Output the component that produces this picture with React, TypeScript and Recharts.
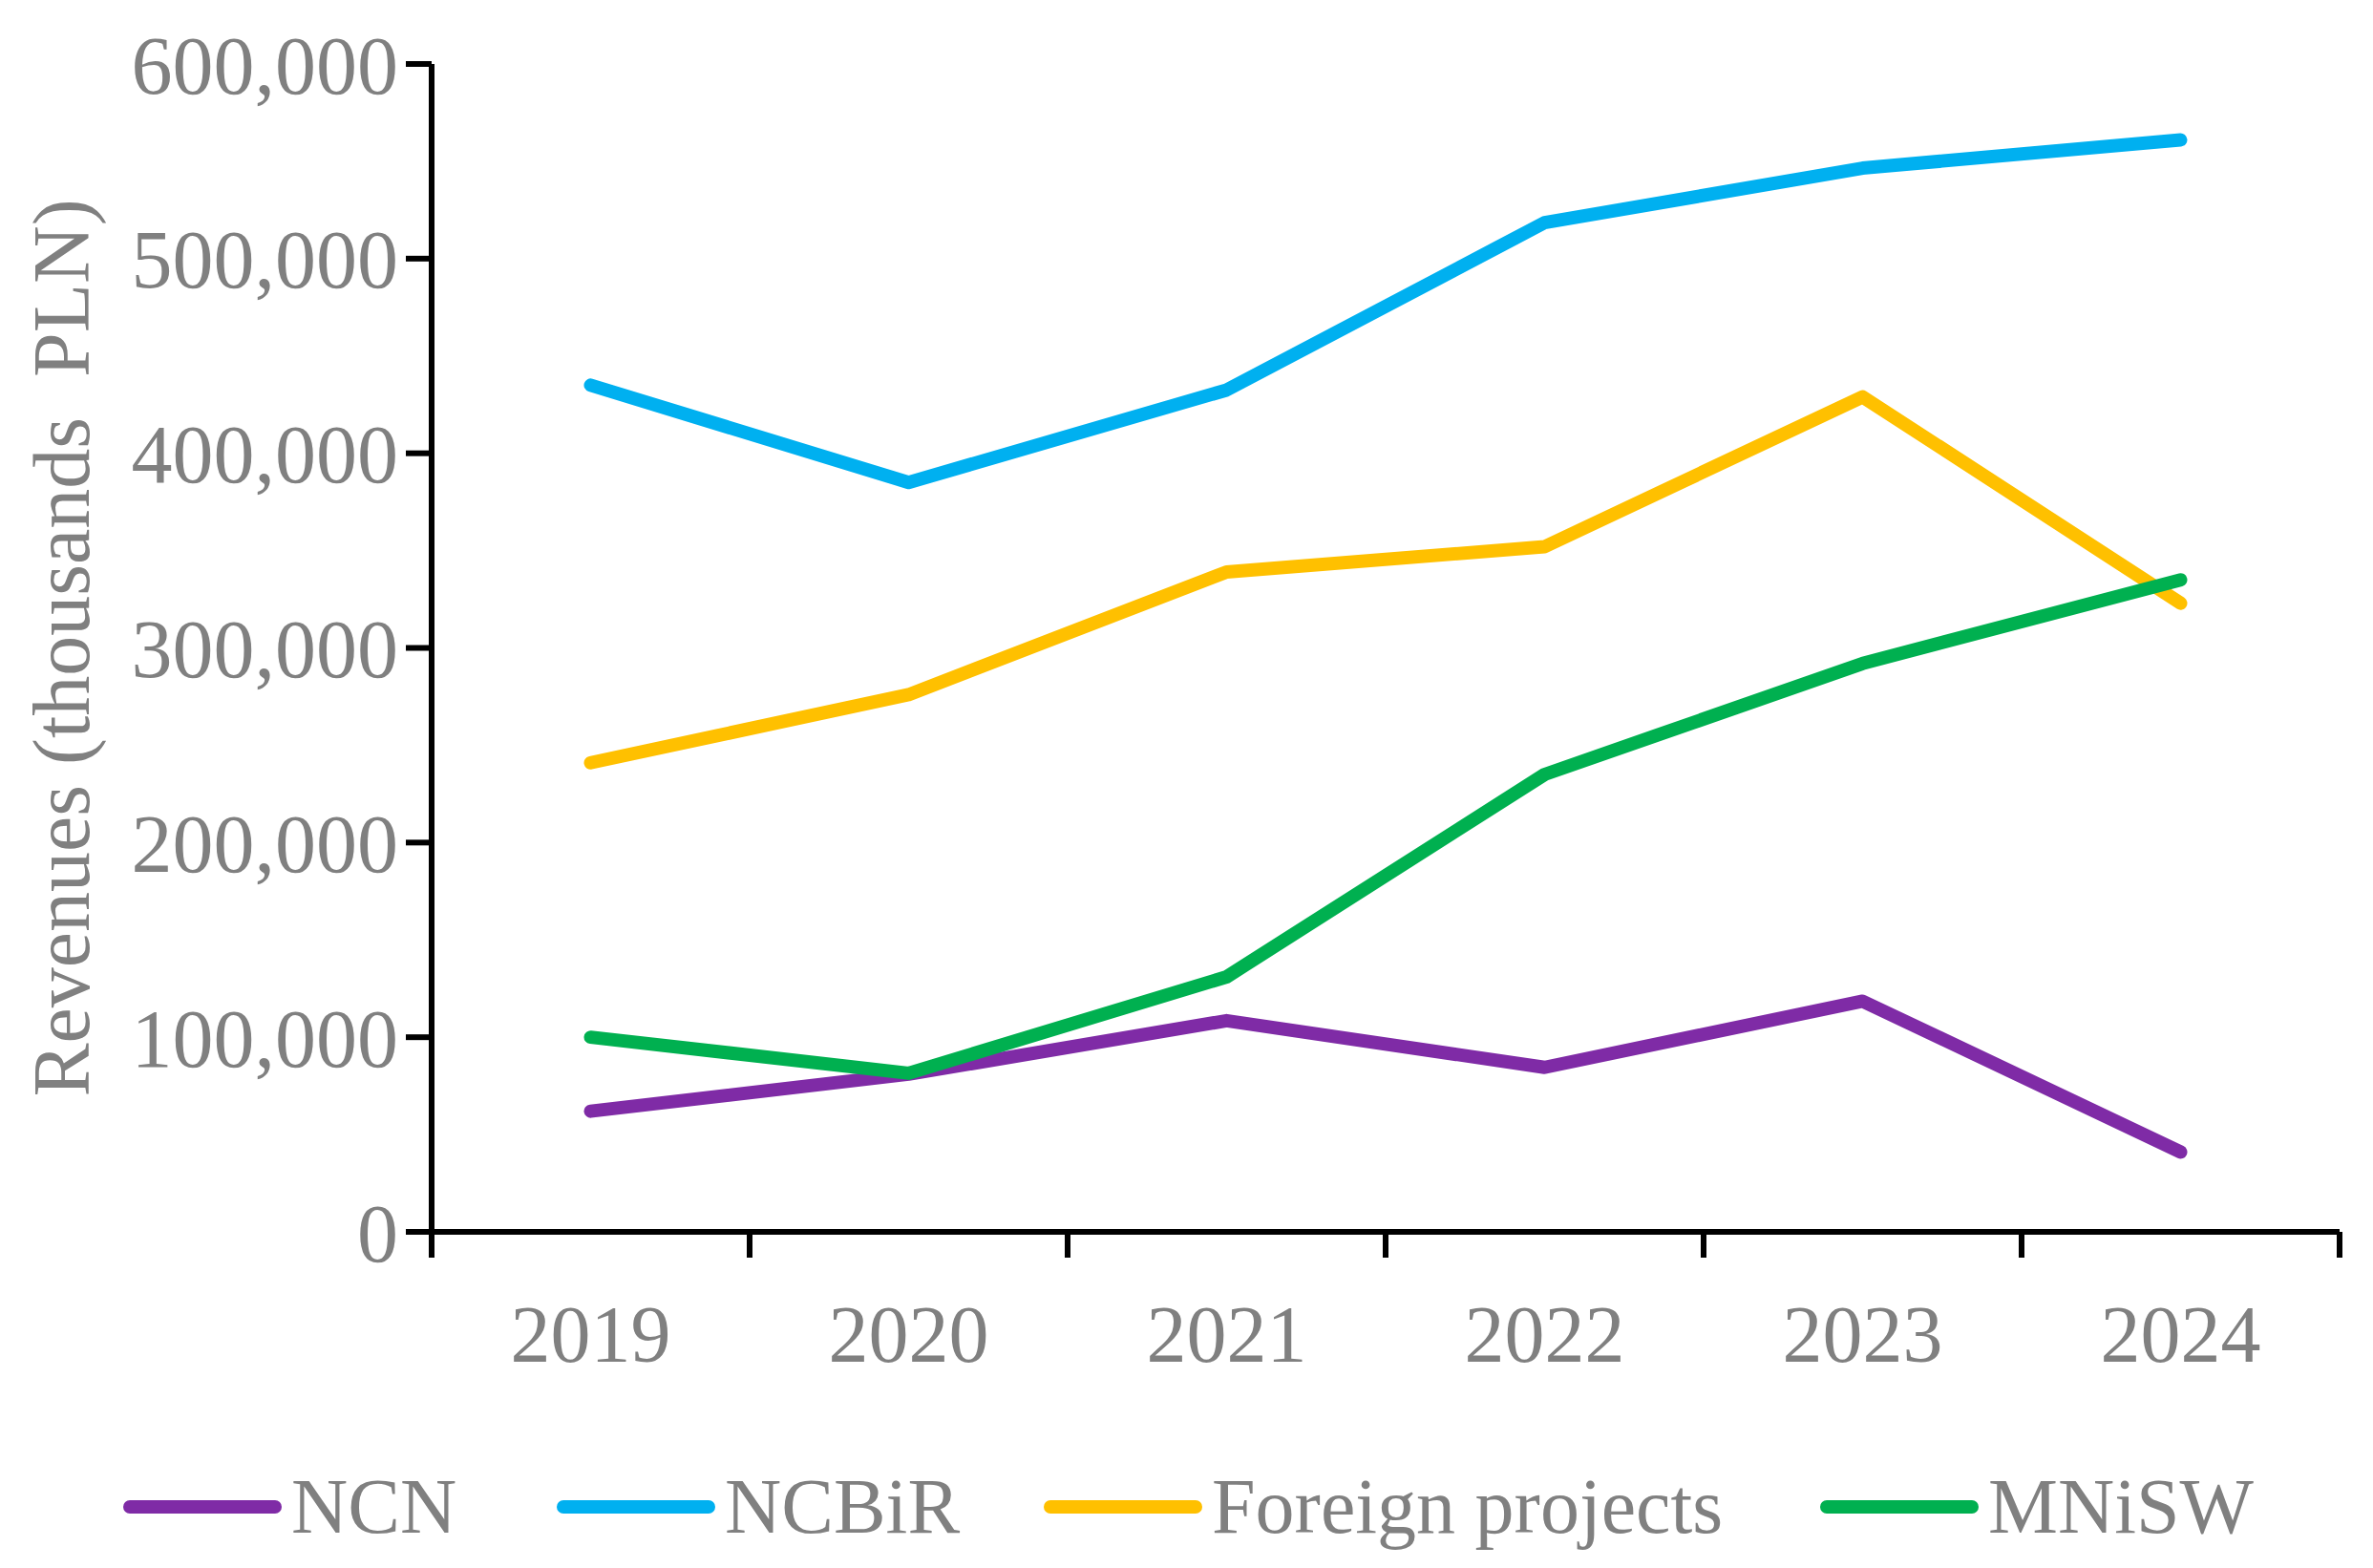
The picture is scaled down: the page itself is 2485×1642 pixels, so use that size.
import { LineChart, Line, XAxis, YAxis } from 'recharts';

const years = ['2019', '2020', '2021', '2022', '2023', '2024'];
const ncn = [62000, 81000, 108500, 84500, 118500, 41000];
const ncbir = [435000, 385000, 432500, 518500, 546500, 561000];
const foreign = [241000, 276000, 339000, 352000, 429000, 323000];
const mnisw = [100000, 81500, 131000, 235000, 292000, 335000];
const yTicks = [0, 100000, 200000, 300000, 400000, 500000, 600000];
const xTicks = [0, 1, 2, 3, 4, 5, 6];

const series = [
  { key: 'NCN', color: '#7F2BA6', values: ncn },
  { key: 'NCBiR', color: '#00B0F0', values: ncbir },
  { key: 'Foreign projects', color: '#FFC000', values: foreign },
  { key: 'MNiSW', color: '#00B050', values: mnisw },
];

const data = years.map((year, i) => {
  const row: any = { x: i + 0.5, year };
  series.forEach((s) => { row[s.key] = s.values[i]; });
  return row;
});

const FONT = '"Liberation Serif", "Times New Roman", serif';
const GREY = '#808080';
const W = 2485;
const H = 1642;
const LEFT = 452;
const RIGHT = 35;
const catW = (W - LEFT - RIGHT) / years.length;

const XTick = ({ x, y, payload }: any) => {
  const i = payload.value;
  if (i >= years.length) return null;
  return (
    <text x={x + catW / 2} y={y} dy={107} textAnchor="middle" fill={GREY} fontSize={84} fontFamily={FONT}>
      {years[i]}
    </text>
  );
};

const YLabel = ({ viewBox }: any) => {
  const cy = viewBox.y + viewBox.height / 2;
  return (
    <text x={64} y={cy} transform={`rotate(-90, 64, ${cy})`} textAnchor="middle" dominantBaseline="central"
      fill={GREY} fontSize={84} fontFamily={FONT} style={{ whiteSpace: 'pre' }}>
      {'Revenues (thousands  PLN)'}
    </text>
  );
};

// legend item left edges
const legendPos = [127, 581, 1091, 1904];

const App = () => (
  <div style={{ position: 'relative', width: W, height: H, background: '#fff' }}>
    <style>{'body{margin:0}'}</style>
    <LineChart width={W} height={H} data={data} margin={{ top: 67, right: RIGHT, left: 0, bottom: 202 }}>
      <XAxis
        dataKey="x"
        type="number"
        domain={[0, 6]}
        ticks={xTicks}
        interval={0}
        height={150}
        axisLine={{ stroke: '#000', strokeWidth: 6 }}
        tickLine={{ stroke: '#000', strokeWidth: 6 }}
        tickSize={27}
        tick={<XTick />}
      />
      <YAxis
        domain={[0, 600000]}
        ticks={yTicks}
        interval={0}
        width={LEFT}
        axisLine={{ stroke: '#000', strokeWidth: 6 }}
        tickLine={{ stroke: '#000', strokeWidth: 6 }}
        tickSize={27}
        tickMargin={8}
        tick={{ fill: GREY, fontSize: 86, fontFamily: FONT }}
        tickFormatter={(v: number) => v.toLocaleString('en-US')}
        label={<YLabel />}
      />
      {series.map((s) => (
        <Line
          key={s.key}
          dataKey={s.key}
          type="linear"
          stroke={s.color}
          strokeWidth={14}
          strokeLinecap="round"
          strokeLinejoin="round"
          dot={false}
          isAnimationActive={false}
        />
      ))}
    </LineChart>
    {series.map((s, i) => (
      <div key={s.key} style={{ position: 'absolute', left: legendPos[i], top: 1578, transform: 'translateY(-50%)',
        display: 'flex', alignItems: 'center', fontFamily: FONT, fontSize: 82, color: GREY, whiteSpace: 'nowrap' }}>
        <svg width={170} height={18} style={{ marginRight: 8 }}>
          <line x1={9} y1={9} x2={161} y2={9} stroke={s.color} strokeWidth={14} strokeLinecap="round" />
        </svg>
        <span>{s.key}</span>
      </div>
    ))}
  </div>
);

export default App;
